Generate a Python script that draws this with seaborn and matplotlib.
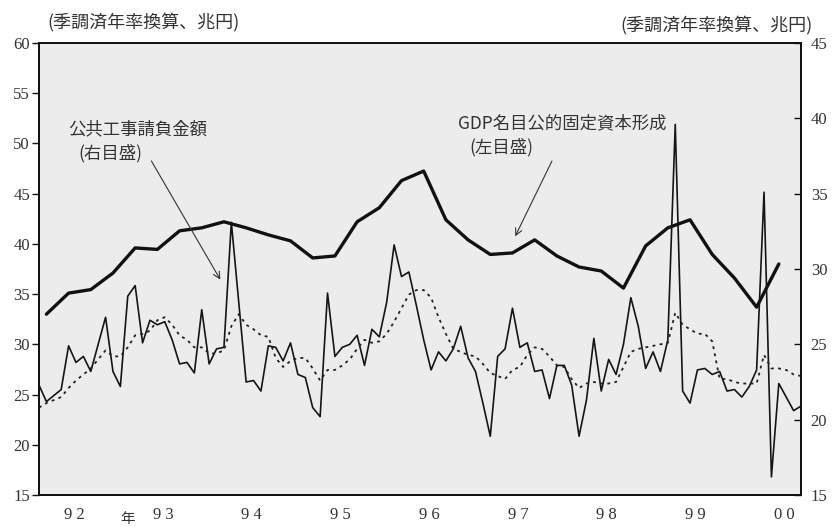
import numpy as np
import matplotlib
matplotlib.use("Agg")
import matplotlib.pyplot as plt
import matplotlib.transforms as mtransforms
import seaborn as sns

# monthly public works contract amount (right axis), Jan 1992 - Aug 2000
contracts = [22.3, 21.2, 21.6, 22.0, 24.9, 23.8, 24.2, 23.2, 25.0, 26.8, 23.2, 22.2,
             28.2, 28.9, 25.1, 26.6, 26.3, 26.5, 25.3, 23.7, 23.8, 23.1, 27.3, 23.7,
             24.7, 24.8, 33.1, 27.8, 22.5, 22.6, 21.9, 24.9, 24.8, 23.9, 25.1, 23.0,
             22.8, 20.8, 20.2, 28.4, 24.2, 24.8, 25.0, 25.6, 23.6, 26.0, 25.5, 27.8,
             31.6, 29.5, 29.8, 27.6, 25.3, 23.3, 24.5, 23.9, 24.7, 26.2, 24.1, 23.2,
             21.1, 18.9, 24.2, 24.7, 27.4, 24.8, 25.1, 23.2, 23.3, 21.4, 23.6, 23.6,
             22.3, 18.9, 21.3, 25.4, 21.9, 24.0, 23.0, 25.0, 28.1, 26.2, 23.4, 24.5,
             23.2, 25.3, 39.6, 21.9, 21.1, 23.3, 23.4, 23.0, 23.2, 21.9, 22.0, 21.5,
             22.2, 23.3, 35.1, 16.2, 22.4, 21.5, 20.6, 20.9]

# smoothed contract amount (dotted, right axis)
contracts_avg = [20.8, 21.1, 21.3, 21.5, 22.1, 22.6, 23.0, 23.4, 24.0, 24.6, 24.2, 24.2,
                 24.8, 25.6, 25.7, 25.9, 26.6, 26.8, 26.3, 25.6, 25.3, 24.8, 24.8, 24.4,
                 24.4, 24.6, 26.2, 27.0, 26.3, 26.0, 25.6, 25.5, 24.1, 23.5, 23.9, 24.1,
                 24.1, 23.4, 22.6, 23.3, 23.3, 23.6, 24.0, 24.7, 25.3, 25.1, 25.2, 25.7,
                 26.5, 27.4, 28.3, 28.6, 28.6, 28.1, 26.8, 25.7, 24.7, 24.5, 24.3, 24.2,
                 23.7, 23.1, 22.9, 22.7, 23.3, 23.5, 24.3, 24.8, 24.7, 24.2, 23.6, 23.5,
                 22.7, 22.1, 22.4, 22.5, 22.4, 22.4, 22.5, 23.5, 24.5, 24.7, 24.8, 24.9,
                 25.0, 25.1, 27.1, 26.3, 26.0, 25.7, 25.7, 25.2, 22.7, 22.7, 22.5, 22.4,
                 22.4, 22.4, 24.3, 23.4, 23.4, 23.3, 23.0, 22.9]

# quarterly nominal public fixed capital formation (left axis), 1992Q1 - 2000Q2
gdp_public = [33.0, 35.1, 35.45, 37.1, 39.6, 39.45, 41.3, 41.6, 42.2, 41.6, 40.9, 40.3,
              38.6, 38.8, 42.2, 43.6, 46.3, 47.25, 42.4, 40.4, 38.95, 39.1, 40.4, 38.8,
              37.7, 37.3, 35.6, 39.8, 41.6, 42.4, 38.95, 36.6, 33.7, 38.0]

year_labels = ["9 2", "9 3", "9 4", "9 5", "9 6", "9 7", "9 8", "9 9", "0 0"]

months = np.arange(len(contracts))
quarters = np.arange(len(gdp_public)) * 3 + 1

sns.set_style("white")
plt.rcParams["font.family"] = ["Liberation Serif", "DejaVu Serif"]
jp = ["Noto Sans CJK JP", "DejaVu Sans"]
txt = "#333333"

fig = plt.figure(figsize=(8.33, 5.27), dpi=100)
ax = fig.add_axes([0.0468, 0.0607, 0.9148, 0.8577])
ax.set_facecolor("#ececec")
ax2 = ax.twinx()

sns.lineplot(x=quarters, y=gdp_public, ax=ax, color="#111111", linewidth=2.4)
sns.lineplot(x=months, y=contracts, ax=ax2, color="#151515", linewidth=1.2)
sns.lineplot(x=months, y=contracts_avg, ax=ax2, color="#222222", linewidth=1.3,
             linestyle=(0, (1.6, 2.4)))

ax.set_xlim(0, len(contracts) - 1)
ax.set_ylim(15, 60)
ax2.set_ylim(15, 45)
ax.set_yticks(range(15, 61, 5))
ax2.set_yticks(range(15, 46, 5))

# year boundary ticks (Dec and Jan) and monthly ticks
bounds = [0]
for y in range(1, 9):
    bounds += [12 * y - 1, 12 * y]
ax.set_xticks(bounds)
ax.set_xticks(months, minor=True)
ax.tick_params(axis="x", which="major", direction="inout", length=10, width=1,
               labelbottom=False, color="#111111")
ax.tick_params(axis="x", which="minor", direction="in", length=4, width=1,
               color="#111111")
ax.tick_params(axis="y", direction="out", length=5, width=1, pad=1.5,
               labelsize=12, labelcolor=txt, color="#111111")
ax2.tick_params(axis="y", direction="in", length=5, width=1, pad=7,
                labelsize=12, labelcolor=txt, color="#111111")
ax.set_xlabel("")
ax.set_ylabel("")
ax2.set_ylabel("")

for a in (ax, ax2):
    for s in a.spines.values():
        s.set_color("#111111")
        s.set_linewidth(1.3)

trans = mtransforms.blended_transform_factory(ax.transData, ax.transAxes)
for k, lab in enumerate(year_labels):
    ax.text(12 * k + 4.75, -0.044, lab, transform=trans, ha="center", va="center",
            fontsize=12, color=txt)
ax.text(12.0, -0.052, "年", transform=trans, ha="center", va="center",
        fontsize=10.5, color=txt, family=jp)

fig.text(47 / 833, 1 - 22 / 527, "(季調済年率換算、兆円)", ha="left", va="center",
         fontsize=13, color=txt, family=jp)
fig.text(813 / 833, 1 - 25 / 527, "(季調済年率換算、兆円)", ha="right", va="center",
         fontsize=13, color=txt, family=jp)

# annotations
ax.text(3.9, 51.4, "公共工事請負金額", ha="left", va="center", fontsize=12.5,
        color=txt, family=jp)
ax.text(5.3, 49.0, "(右目盛)", ha="left", va="center", fontsize=12.5,
        color=txt, family=jp)
ax.annotate("", xy=(24.7, 36.2), xytext=(15.0, 48.5),
            arrowprops=dict(arrowstyle="->", lw=0.8, color="#333333", mutation_scale=12))

ax.text(56.6, 52.0, "GDP名目公的固定資本形成", ha="left", va="center", fontsize=12.5,
        color=txt, family=jp)
ax.text(58.2, 49.6, "(左目盛)", ha="left", va="center", fontsize=12.5,
        color=txt, family=jp)
ax.annotate("", xy=(64.2, 40.5), xytext=(69.5, 48.5),
            arrowprops=dict(arrowstyle="->", lw=0.8, color="#333333", mutation_scale=12))

fig.savefig("out.png", dpi=100)
